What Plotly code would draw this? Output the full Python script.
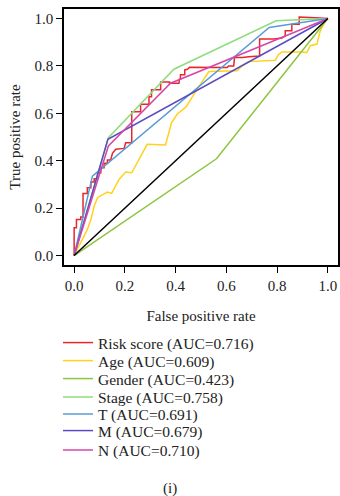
import plotly.graph_objects as go

# ---- data ----
risk_fpr = [0, 0, 0.009, 0.009, 0.026, 0.026, 0.035, 0.035, 0.052, 0.052, 0.066, 0.066, 0.079, 0.079,
            0.092, 0.092, 0.105, 0.105, 0.118, 0.118, 0.131, 0.131, 0.144, 0.151, 0.164, 0.183, 0.197,
            0.203, 0.227, 0.227, 0.262, 0.262, 0.295, 0.295, 0.305, 0.305, 0.341, 0.341, 0.376, 0.376,
            0.413, 0.415, 0.419, 0.419, 0.436, 0.436, 0.446, 0.455, 0.491, 0.547, 0.557, 0.603, 0.609,
            0.629, 0.632, 0.664, 0.688, 0.731, 0.731, 0.786, 0.819, 0.832, 0.832, 0.858, 0.858, 0.887,
            0.887, 0.944, 0.950, 1]
risk_tpr = [0, 0.117, 0.117, 0.152, 0.152, 0.162, 0.162, 0.262, 0.262, 0.286, 0.286, 0.310, 0.310, 0.324,
            0.324, 0.349, 0.349, 0.370, 0.370, 0.389, 0.389, 0.403, 0.403, 0.431, 0.448, 0.452, 0.452,
            0.476, 0.476, 0.606, 0.606, 0.638, 0.638, 0.670, 0.670, 0.699, 0.699, 0.732, 0.732, 0.727,
            0.727, 0.744, 0.744, 0.763, 0.763, 0.783, 0.786, 0.794, 0.794, 0.792, 0.794, 0.793, 0.800,
            0.800, 0.835, 0.835, 0.839, 0.842, 0.913, 0.913, 0.918, 0.927, 0.948, 0.948, 0.976, 0.976,
            1.006, 1.006, 1.003, 1.0]

age_fpr = [0, 0.020, 0.039, 0.052, 0.066, 0.079, 0.092, 0.131, 0.148, 0.177, 0.203, 0.227, 0.288, 0.360,
           0.384, 0.406, 0.442, 0.478, 0.507, 0.531, 0.642, 0.662, 0.688, 0.793, 0.806, 0.819, 0.898,
           0.917, 0.931, 0.957, 0.970, 0.983, 1]
age_tpr = [0, 0.039, 0.082, 0.110, 0.152, 0.208, 0.244, 0.268, 0.262, 0.321, 0.352, 0.349, 0.469, 0.466,
           0.561, 0.596, 0.628, 0.690, 0.737, 0.776, 0.779, 0.800, 0.818, 0.824, 0.849, 0.859, 0.859,
           0.856, 0.885, 0.892, 0.948, 0.976, 1]

gender_fpr = [0, 0.561, 1]
gender_tpr = [0, 0.408, 1]

stage_fpr = [0, 0.135, 0.393, 0.796, 1]
stage_tpr = [0, 0.497, 0.786, 0.990, 1]

t_fpr = [0, 0.072, 0.769, 1]
t_tpr = [0, 0.335, 0.962, 1]

m_fpr = [0, 0.133, 1]
m_tpr = [0, 0.490, 1]

n_fpr = [0, 0.135, 0.380, 1]
n_tpr = [0, 0.462, 0.727, 1]

diag = [0, 1]

series = [
    ("Risk score (AUC=0.716)", risk_fpr, risk_tpr, "#E8262B"),
    ("Age (AUC=0.609)", age_fpr, age_tpr, "#FFD21F"),
    ("Gender (AUC=0.423)", gender_fpr, gender_tpr, "#8CC63F"),
    ("Stage (AUC=0.758)", stage_fpr, stage_tpr, "#8EDC7E"),
    ("T (AUC=0.691)", t_fpr, t_tpr, "#5B9BD5"),
    ("M (AUC=0.679)", m_fpr, m_tpr, "#5A4CBE"),
    ("N (AUC=0.710)", n_fpr, n_tpr, "#D447A8"),
]

ticks = [0, 0.2, 0.4, 0.6, 0.8, 1.0]
ticktext = ["0.0", "0.2", "0.4", "0.6", "0.8", "1.0"]

FONT = "Liberation Serif"
TXT = "#222222"
FS = 15

# legend row centres (pixels from top of the 496px image), plot area spans 9..265
legend_rows_px = [343, 361, 379, 397.5, 414.5, 431, 450.5]
T_MARGIN, B_MARGIN, H, W = 9, 231, 496, 340
L_MARGIN, R_MARGIN = 64, 2
PLOT_H = H - T_MARGIN - B_MARGIN
PLOT_W = W - L_MARGIN - R_MARGIN

fig = go.Figure()
legend_layouts = {}
for i, (name, xs, ys, col) in enumerate(series):
    key = "legend" if i == 0 else f"legend{i + 1}"
    fig.add_trace(go.Scatter(x=xs, y=ys, mode="lines", name=name, legend=key,
                             line=dict(color=col, width=1.5), hoverinfo="skip"))
    ypix = legend_rows_px[i]
    legend_layouts[key] = dict(
        x=(58 - L_MARGIN) / PLOT_W, xanchor="left",
        y=(H - B_MARGIN - ypix) / PLOT_H, yanchor="middle",
        font=dict(family=FONT, size=15.5, color=TXT),
        bgcolor="rgba(0,0,0,0)", borderwidth=0, itemwidth=30,
    )
fig.add_trace(go.Scatter(x=diag, y=diag, mode="lines", showlegend=False, hoverinfo="skip",
                         line=dict(color="black", width=1.5)))

axis_common = dict(
    range=[-0.04, 1.04], tickvals=ticks, ticktext=ticktext, automargin=False,
    showline=True, linecolor="black", linewidth=1.5, mirror=True,
    ticks="outside", ticklen=6, tickwidth=1.2, tickcolor="black",
    showgrid=False, zeroline=False,
    tickfont=dict(family=FONT, size=FS, color=TXT),
)

fig.update_layout(
    width=W, height=H,
    margin=dict(l=L_MARGIN, r=R_MARGIN, t=T_MARGIN, b=B_MARGIN, autoexpand=False),
    paper_bgcolor="white", plot_bgcolor="white",
    font=dict(family=FONT, size=FS, color=TXT),
    xaxis=dict(**axis_common, title=dict(text="False positive rate", standoff=18,
                                         font=dict(family=FONT, size=FS, color=TXT))),
    yaxis=dict(**axis_common, title=dict(text="True positive rate", standoff=10,
                                         font=dict(family=FONT, size=FS, color=TXT))),
    showlegend=True,
    annotations=[dict(text="(i)", x=(170 - L_MARGIN) / PLOT_W, y=(H - B_MARGIN - 488) / PLOT_H,
                      xref="paper", yref="paper", xanchor="center", yanchor="middle",
                      showarrow=False, font=dict(family=FONT, size=FS, color=TXT))],
    **legend_layouts,
)

# remove the default 8px page margin so the figure sits at the window origin
fig.write_html("out.html", config={"displayModeBar": False},
               post_script="document.body.style.margin='0';document.body.style.overflow='hidden';")
